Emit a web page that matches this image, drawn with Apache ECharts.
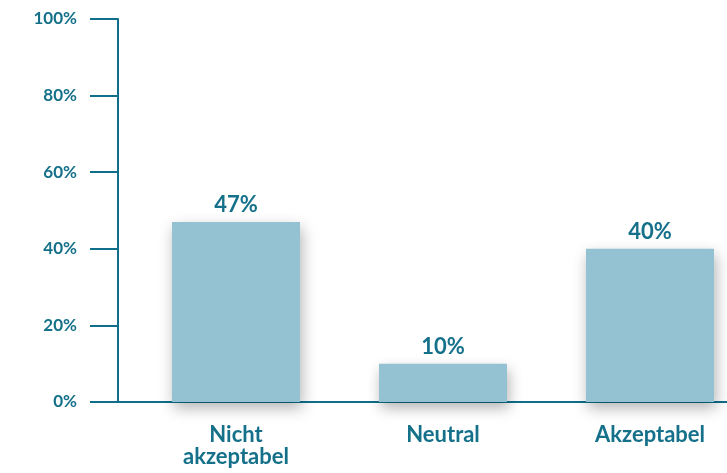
<!DOCTYPE html>
<html><head><meta charset="utf-8">
<script src="https://cdn.jsdelivr.net/npm/echarts@6/dist/echarts.min.js"></script>
<style>html,body{margin:0;padding:0;background:#fff}#c{width:727px;height:473px}</style>
</head><body><div id="c"></div>
<script>
const categories = ["Nicht\nakzeptabel", "Neutral", "Akzeptabel"];
const values = [47, 10, 40];
const yTicks = [0, 20, 40, 60, 80, 100];

const axisColor = "#0f6e89";
const textColor = "#15708a";
const barColor = "#95c2d2";
const font = "Lato, 'Open Sans', sans-serif";

const chart = echarts.init(document.getElementById("c"), null, {renderer: "canvas"});
chart.setOption({
  animation: false,
  grid: [
    {left: 132.5, width: 621, top: 19, bottom: 71, outerBoundsMode: "none", containLabel: false},
    {left: 92, right: 0, top: 19, bottom: 71, outerBoundsMode: "none", containLabel: false}
  ],
  xAxis: [
    {type: "category", gridIndex: 0, data: categories,
     axisLine: {show: false}, axisTick: {show: false},
     axisLabel: {color: textColor, fontFamily: font, fontWeight: "bold", fontSize: 22, margin: 22, lineHeight: 22}},
    {type: "value", gridIndex: 1, min: 0, max: 1,
     axisLine: {show: true, lineStyle: {color: axisColor, width: 2}},
     axisTick: {show: false}, axisLabel: {show: false}, splitLine: {show: false}}
  ],
  yAxis: [
    {type: "value", gridIndex: 0, min: yTicks[0], max: yTicks[yTicks.length - 1], interval: 20, offset: 14.5,
     axisLine: {show: true, lineStyle: {color: axisColor, width: 2}},
     axisTick: {show: true, length: 28, lineStyle: {color: axisColor, width: 2}},
     splitLine: {show: false},
     axisLabel: {color: textColor, fontFamily: font, fontWeight: "bold", fontSize: 17, margin: 41,
                 formatter: v => v + "%"}},
    {type: "value", gridIndex: 1, show: false, min: 0, max: 1}
  ],
  series: [{
    type: "bar", xAxisIndex: 0, yAxisIndex: 0, data: values, barWidth: 128,
    itemStyle: {color: barColor, shadowColor: "rgba(0,0,0,0.3)", shadowBlur: 14, shadowOffsetY: 6, shadowOffsetX: 2},
    label: {show: true, position: "top", distance: 6, color: textColor, fontFamily: font, fontWeight: "bold", fontSize: 22,
            formatter: p => p.value + "%"}
  }]
});
</script></body></html>
